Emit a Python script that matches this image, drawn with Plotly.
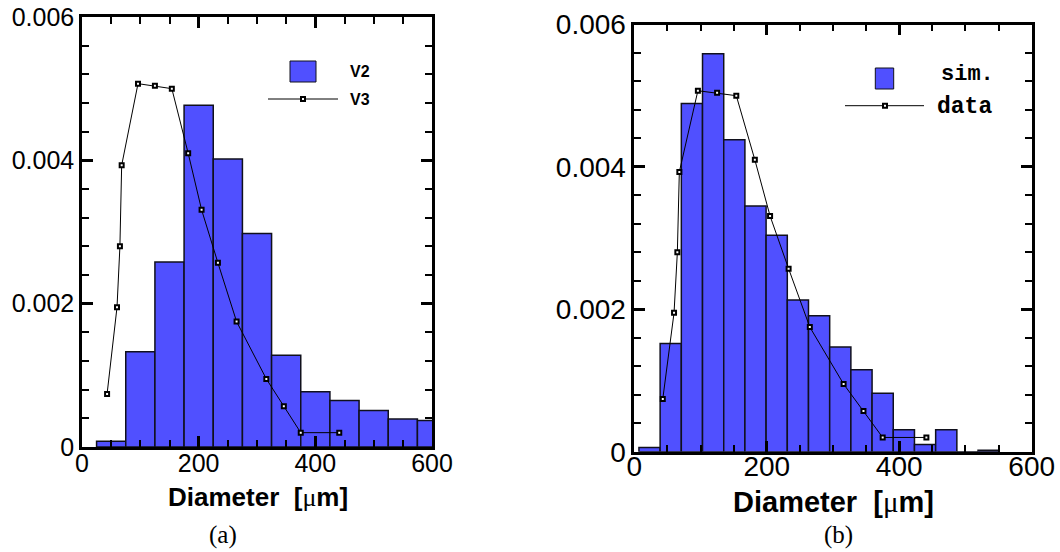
import plotly.graph_objects as go

figWidth = 1060
figHeight = 552

# histogram (a)
binCentersA = [50, 100, 150, 200, 250, 300, 350, 400, 450, 500, 550, 600]
binValuesA = [0.00008, 0.00133, 0.00258, 0.00477, 0.00402, 0.00298, 0.00128, 0.00077, 0.00065, 0.00051, 0.00039, 0.00037]

# histogram (b)
binCentersB = [23, 55, 87, 119, 151, 183, 215, 247, 279, 311, 343, 375, 407, 439, 471, 503, 535]
binValuesB = [0.00006, 0.00152, 0.00489, 0.00559, 0.00438, 0.00345, 0.00304, 0.00213, 0.00191, 0.00147, 0.00115, 0.00082, 0.00031, 0.00010, 0.00031, 0.0, 0.00002]

# measured curve, same in both panels
dataX = [43, 60, 65, 68, 96, 125, 154, 182, 205, 233, 265, 316, 346, 375, 441]
dataY = [0.00074, 0.00195, 0.0028, 0.00393, 0.00507, 0.00504, 0.005, 0.0041, 0.00331, 0.00257, 0.00175, 0.00095, 0.00057, 0.0002, 0.0002]

barColor = "#5050ff"
edgeColor = "#10101c"


def pxX(px):
    return px / figWidth


def pxY(px):
    return 1 - px / figHeight


def axisStyle(majorStep, minorStep, fontSize):
    return dict(
        tickmode="linear", tick0=0, dtick=majorStep, tickformat="~g",
        ticks="inside", ticklen=11, tickwidth=2.5, tickcolor="black",
        minor=dict(tick0=0, dtick=minorStep, ticks="inside", ticklen=7, tickwidth=1.5, tickcolor="black", showgrid=False),
        showline=True, linecolor="black", linewidth=2.5, mirror="allticks",
        showgrid=False, zeroline=False, automargin=False,
        tickfont=dict(family="Liberation Sans", size=fontSize, color="black"),
    )


def addPanel(binCenters, binValues, binWidth, xName, yName):
    fig.add_trace(go.Bar(x=binCenters, y=binValues, width=binWidth, marker=dict(color=barColor, line=dict(color=edgeColor, width=1.5)), xaxis=xName, yaxis=yName))
    fig.add_trace(go.Scatter(x=dataX, y=dataY, mode="lines+markers", line=dict(color="black", width=1),
                             marker=dict(symbol="square", size=4, color="white", line=dict(color="black", width=2)), xaxis=xName, yaxis=yName))


fig = go.Figure()
addPanel(binCentersA, binValuesA, 50, "x", "y")
addPanel(binCentersB, binValuesB, 32, "x2", "y2")

xTitle = '<b>Diameter  [</b><span style="font-family:Liberation Serif">μ</span><b>m]</b>'

fig.update_layout(
    width=figWidth, height=figHeight,
    margin=dict(l=0, r=0, t=0, b=0),
    paper_bgcolor="white", plot_bgcolor="white",
    showlegend=False, barmode="overlay",
    xaxis=dict(domain=[pxX(82), pxX(432)], range=[0, 600], anchor="y", ticklabelstandoff=-8,
               **axisStyle(200, 50, 25)),
    yaxis=dict(domain=[pxY(447), pxY(17)], range=[0, 0.006], anchor="x",
               **axisStyle(0.002, 0.0004, 25)),
    xaxis2=dict(domain=[pxX(634.3), pxX(1031.7)], range=[0, 600], anchor="y2", ticklabelstandoff=-12,
                **axisStyle(200, 50, 28)),
    yaxis2=dict(domain=[pxY(451.7), pxY(24.5)], range=[0, 0.006], anchor="x2",
                **axisStyle(0.002, 0.0004, 28)),
)

# legend keys and labels
fig.add_shape(type="rect", xref="paper", yref="paper", x0=pxX(290), x1=pxX(316), y0=pxY(82), y1=pxY(61), fillcolor=barColor, line=dict(color=edgeColor, width=1))
fig.add_shape(type="line", xref="paper", yref="paper", x0=pxX(268), x1=pxX(338), y0=pxY(99), y1=pxY(99), line=dict(color="black", width=1))
fig.add_shape(type="rect", xref="paper", yref="paper", x0=pxX(301), x1=pxX(305), y0=pxY(101), y1=pxY(97), fillcolor="white", line=dict(color="black", width=2))

fig.add_shape(type="rect", xref="paper", yref="paper", x0=pxX(875.3), x1=pxX(893.7), y0=pxY(89), y1=pxY(68), fillcolor=barColor, line=dict(color=edgeColor, width=1))
fig.add_shape(type="line", xref="paper", yref="paper", x0=pxX(845), x1=pxX(924), y0=pxY(105.7), y1=pxY(105.7), line=dict(color="black", width=1))
fig.add_shape(type="rect", xref="paper", yref="paper", x0=pxX(883), x1=pxX(887), y0=pxY(107.7), y1=pxY(103.7), fillcolor="white", line=dict(color="black", width=2))

legendTexts = [("V2", 350, 71, "Liberation Sans", 16), ("V3", 350, 99, "Liberation Sans", 16),
               ("sim.", 941, 74, "Liberation Mono", 22), ("data", 937, 107, "Liberation Mono", 23)]
for text, xPx, yPx, family, size in legendTexts:
    fig.add_annotation(xref="paper", yref="paper", x=pxX(xPx), y=pxY(yPx), text=f"<b>{text}</b>", showarrow=False, xanchor="left", yanchor="middle",
                       font=dict(family=family, size=size, color="black"), borderpad=0, borderwidth=0)

# axis titles placed by hand, the automatic ones stay pinned at the margin
for xPx, yPx, size in [(258, 497, 26), (833, 502, 29)]:
    fig.add_annotation(xref="paper", yref="paper", x=pxX(xPx), y=pxY(yPx), text=xTitle, showarrow=False, xanchor="center", yanchor="middle",
                       font=dict(family="Liberation Sans", size=size, color="black"))

for text, xPx in [("(a)", 223), ("(b)", 838)]:
    fig.add_annotation(xref="paper", yref="paper", x=pxX(xPx), y=pxY(535), text=text, showarrow=False, xanchor="center", yanchor="middle",
                       font=dict(family="Liberation Serif", size=25, color="black"))

# page has a default body margin that shifts the figure
fig.write_html("out.html", config=dict(displayModeBar=False), post_script="document.body.style.margin='0';")
